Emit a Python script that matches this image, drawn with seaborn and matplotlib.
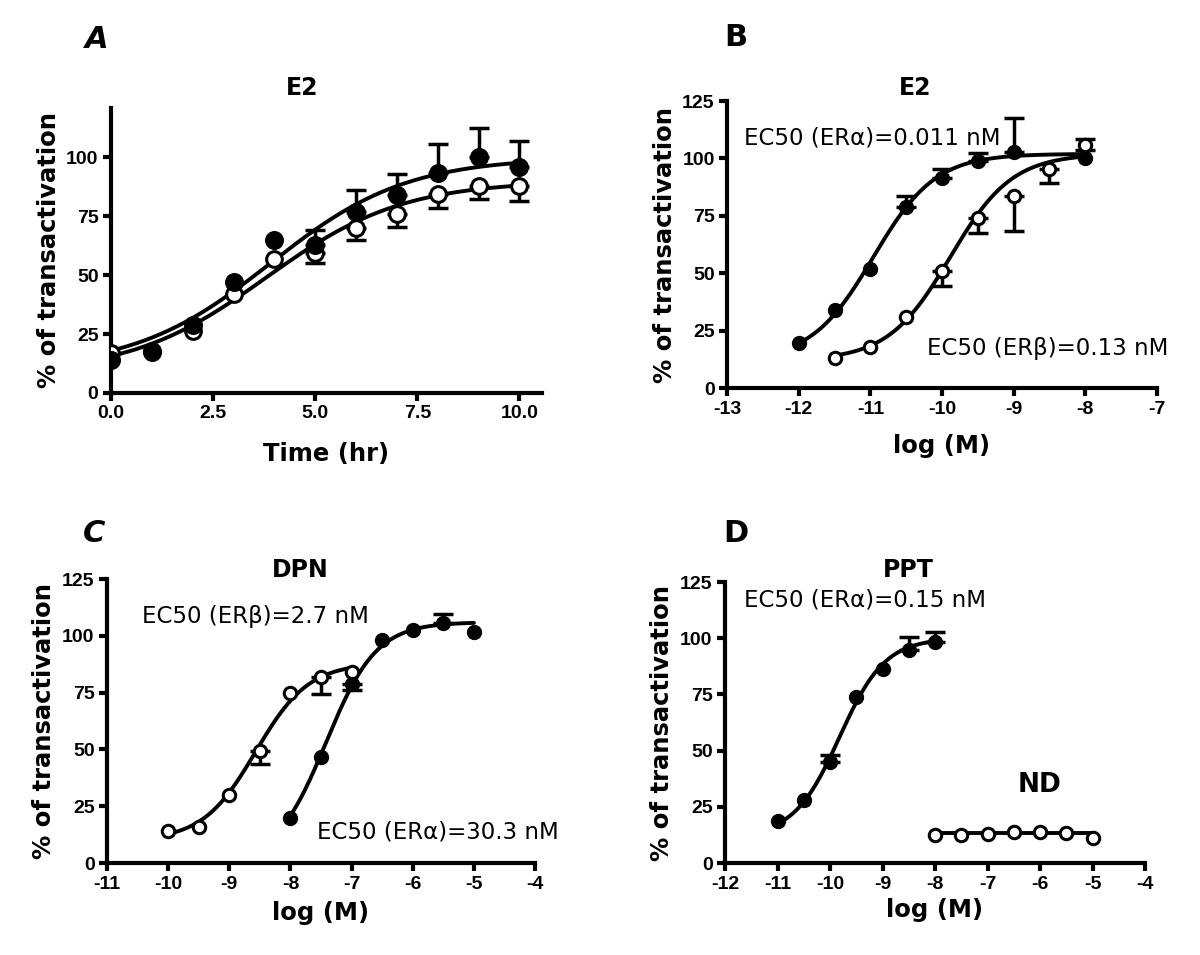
import numpy as np
import matplotlib
matplotlib.use("Agg")
import matplotlib.pyplot as plt
import seaborn as sns

# ---- panel A: E2 time course ----
time_hr = [0, 1, 2, 3, 4, 5, 6, 7, 8, 9, 10]
a_alpha = [14, 17.5, 29, 47, 65, 63, 77, 84, 93.5, 100, 96]
a_alpha_up = [0, 0, 0, 0, 0, 6, 9, 9, 12, 12.5, 11]
a_beta = [17, 18, 26.5, 42, 57, 59.5, 70, 76, 84.5, 88, 88]
a_beta_down = [0, 0, 0, 0, 0, 4.5, 5, 5.5, 6, 5.5, 6.5]

# ---- panel B: E2 dose response ----
b_alpha_x = [-12, -11.5, -11, -10.5, -10, -9.5, -9, -8]
b_alpha = [19.5, 34, 52, 79, 91.5, 99, 103, 100]
b_alpha_up = [0, 0, 0, 4.5, 4, 3.5, 14.5, 0]
b_beta_x = [-11.5, -11, -10.5, -10, -9.5, -9, -8.5, -8]
b_beta = [13, 18, 31, 51, 74, 83.5, 95.5, 106]
b_beta_down = [0, 0, 0, 6.5, 6.5, 15, 6, 2.5]
b_beta_up = [0, 0, 0, 0, 0, 0, 0, 2.5]

# ---- panel C: DPN ----
c_beta_x = [-10, -9.5, -9, -8.5, -8, -7.5, -7]
c_beta = [14, 16, 30, 49.5, 75, 82, 84]
c_beta_down = [0, 0, 0, 6, 0, 7.5, 0]
c_alpha_x = [-8, -7.5, -7, -6.5, -6, -5.5, -5]
c_alpha = [20, 46.5, 79, 98, 102.5, 105.5, 101.5]
c_alpha_down = [0, 0, 3, 0, 0, 0, 0]
c_alpha_up = [0, 0, 0, 0, 0, 4, 0]

# ---- panel D: PPT ----
d_alpha_x = [-11, -10.5, -10, -9.5, -9, -8.5, -8]
d_alpha = [18.5, 28, 45, 74, 86.5, 95, 98.5]
d_alpha_up = [0, 0, 3, 0, 0, 5.5, 4.5]
d_beta_x = [-8, -7.5, -7, -6.5, -6, -5.5, -5]
d_beta = [12.5, 12.5, 13, 14, 14, 13.5, 11]

# fitted curve parameters: bottom, top, log EC50 (or midpoint), hill
fit_a_alpha = (10, 100, 3.9, 0.26)
fit_a_beta = (8, 90, 3.8, 0.26)
fit_b_alpha = (12, 102, -10.96, 1.0)
fit_b_beta = (12, 102, -9.886, 1.0)
fit_c_beta = (10, 88, -8.57, 1.0)
fit_c_alpha = (0, 106, -7.42, 1.05)
fit_d_alpha = (12, 100, -9.82, 1.0)
fit_d_beta = (13.3, 13.3, -6.5, 1.0)


def dose_response(x, bottom, top, log_ec50, hill):
    return bottom + (top - bottom) / (1 + 10 ** ((log_ec50 - x) * hill))


sns.set_style("ticks")
plt.rcParams['font.family'] = ['DejaVu Sans']
plt.rcParams['axes.linewidth'] = 3
for key in ['text.color', 'axes.labelcolor', 'xtick.color', 'ytick.color', 'axes.edgecolor']:
    plt.rcParams[key] = 'black'

fig = plt.figure(figsize=(12, 9.55), dpi=100)

axes_pos = {
    'A': [0.0925, 0.5885, 0.359, 0.2985],
    'B': [0.606, 0.5937, 0.358, 0.3005],
    'C': [0.0892, 0.0963, 0.3567, 0.2974],
    'D': [0.6042, 0.0963, 0.350, 0.2942],
}

tick_font = dict(family='Liberation Sans', weight='bold', size=14)


def style_axis(ax, xlim, ylim, xticks, xticklabels, xlabel, xpad):
    ax.set_xlim(*xlim)
    ax.set_ylim(*ylim)
    ax.set_xticks(xticks)
    ax.set_xticklabels(xticklabels, fontdict=tick_font)
    ax.set_yticks([0, 25, 50, 75, 100, 125] if ylim[1] >= 125 else [0, 25, 50, 75, 100])
    ax.set_yticklabels([str(t) for t in ax.get_yticks().astype(int)], fontdict=tick_font)
    ax.tick_params(direction='out', length=6, width=3, pad=3)
    for s in ['top', 'right']:
        ax.spines[s].set_visible(False)
    ax.spines['left'].set_bounds(0, ylim[1])
    ax.set_xlabel(xlabel, fontsize=17.5, fontweight='bold', labelpad=xpad)
    ax.set_ylabel('% of transactivation', fontsize=17.5, fontweight='bold', labelpad=4)


def draw_series(ax, x, y, fit, xs_range, filled, up=None, down=None, size=100):
    xs = np.linspace(xs_range[0], xs_range[1], 200)
    sns.lineplot(x=xs, y=dose_response(xs, *fit), ax=ax, color='black', lw=2.8, zorder=2)
    n = len(x)
    up = up if up is not None else [0] * n
    down = down if down is not None else [0] * n
    idx = [i for i in range(n) if up[i] > 0 or down[i] > 0]
    if idx:
        ax.errorbar([x[i] for i in idx], [y[i] for i in idx],
                    yerr=[[down[i] for i in idx], [up[i] for i in idx]],
                    fmt='none', ecolor='black', elinewidth=2.5, capsize=7, capthick=2.5, zorder=3)
    if filled:
        sns.scatterplot(x=x, y=y, ax=ax, s=size, color='black', edgecolor='black', linewidth=1, zorder=5)
    else:
        sns.scatterplot(x=x, y=y, ax=ax, s=size * 0.8, color='white', edgecolor='black', linewidth=2.2, zorder=4)


# Panel A
ax = fig.add_axes(axes_pos['A'])
draw_series(ax, time_hr, a_beta, fit_a_beta, (0, 10), False, down=a_beta_down, size=160)
draw_series(ax, time_hr, a_alpha, fit_a_alpha, (0, 10), True, up=a_alpha_up, size=160)
style_axis(ax, (0, 10.55), (0, 121), [0, 2.5, 5, 7.5, 10],
           ['0.0', '2.5', '5.0', '7.5', '10.0'], 'Time (hr)', 14)

# Panel B
ax = fig.add_axes(axes_pos['B'])
draw_series(ax, b_alpha_x, b_alpha, fit_b_alpha, (-12, -8), True, up=b_alpha_up)
draw_series(ax, b_beta_x, b_beta, fit_b_beta, (-11.5, -8), False, up=b_beta_up, down=b_beta_down)
style_axis(ax, (-13, -7), (0, 125), list(range(-13, -6)),
           [str(v) for v in range(-13, -6)], 'log (M)', 12)
ax.text(-12.76, 109, 'EC50 (ER\u03b1)=0.011 nM', fontsize=16.5, ha='left', va='center')
ax.text(-10.21, 17.4, 'EC50 (ER\u03b2)=0.13 nM', fontsize=16.5, ha='left', va='center')

# Panel C
ax = fig.add_axes(axes_pos['C'])
draw_series(ax, c_beta_x, c_beta, fit_c_beta, (-10, -7), False, down=c_beta_down)
draw_series(ax, c_alpha_x, c_alpha, fit_c_alpha, (-8, -5), True, up=c_alpha_up, down=c_alpha_down)
style_axis(ax, (-11, -4), (0, 125), list(range(-11, -3)),
           [str(v) for v in range(-11, -3)], 'log (M)', 6)
ax.text(-10.43, 108.3, 'EC50 (ER\u03b2)=2.7 nM', fontsize=16.5, ha='left', va='center')
ax.text(-7.56, 13.6, 'EC50 (ER\u03b1)=30.3 nM', fontsize=16.5, ha='left', va='center')

# Panel D
ax = fig.add_axes(axes_pos['D'])
draw_series(ax, d_alpha_x, d_alpha, fit_d_alpha, (-11, -8), True, up=d_alpha_up)
draw_series(ax, d_beta_x, d_beta, fit_d_beta, (-8, -5), False)
style_axis(ax, (-12, -4), (0, 125), list(range(-12, -3)),
           [str(v) for v in range(-12, -3)], 'log (M)', 4)
ax.text(-11.64, 117, 'EC50 (ER\u03b1)=0.15 nM', fontsize=16.5, ha='left', va='center')
ax.text(-6.0, 34.7, 'ND', fontsize=19, fontweight='bold', ha='center', va='center')

# panel titles
for title, (px, py) in {'E2 ': (302, 88), 'E2': (915, 88), 'DPN': (300, 570), 'PPT': (908, 570)}.items():
    fig.text(px / 1200, 1 - py / 955, title.strip(), fontsize=17, fontweight='bold', ha='center', va='center')

# panel letters
for letter, (px, py) in {'A': (97, 40), 'B': (736, 37), 'C': (94, 533), 'D': (736, 533)}.items():
    fig.text(px / 1200, 1 - py / 955, letter, fontsize=22, fontweight='bold',
             style='italic' if letter in 'AC' else 'normal', ha='center', va='center')

fig.savefig('out.png', dpi=100)
